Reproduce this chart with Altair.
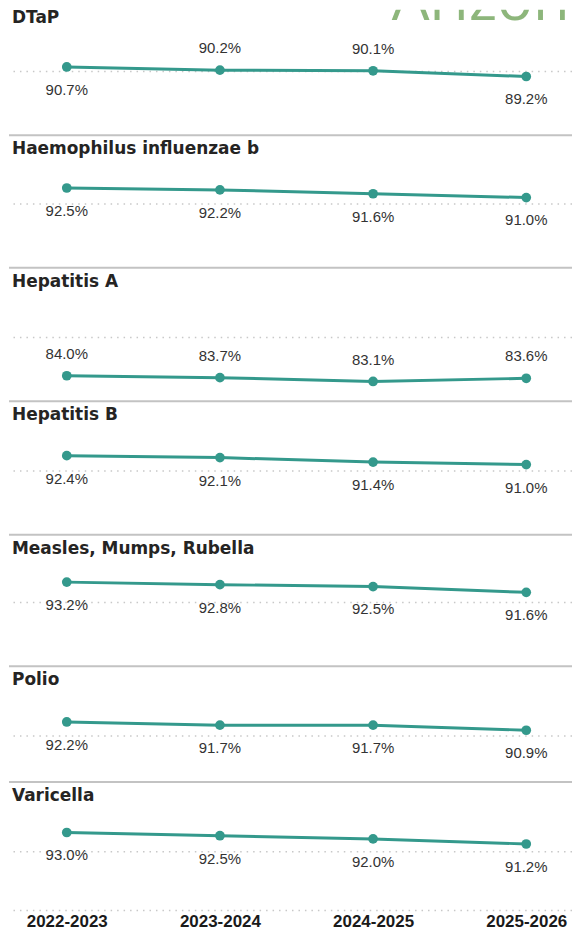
import altair as alt
import pandas as pd

# ---------------- data ----------------
years = ["2022-2023", "2023-2024", "2024-2025", "2025-2026"]
vaccines = [
    "DTaP",
    "Haemophilus influenzae b",
    "Hepatitis A",
    "Hepatitis B",
    "Measles, Mumps, Rubella",
    "Polio",
    "Varicella",
]
dtap = [90.7, 90.2, 90.1, 89.2]
hib = [92.5, 92.2, 91.6, 91.0]
hepa = [84.0, 83.7, 83.1, 83.6]
hepb = [92.4, 92.1, 91.4, 91.0]
mmr = [93.2, 92.8, 92.5, 91.6]
polio = [92.2, 91.7, 91.7, 90.9]
varicella = [93.0, 92.5, 92.0, 91.2]
series = [dtap, hib, hepa, hepb, mmr, polio, varicella]

# where each data label sits relative to its point
label_side = [
    ["below", "above", "above", "below"],
    ["below"] * 4,
    ["above"] * 4,
    ["below"] * 4,
    ["below"] * 4,
    ["below"] * 4,
    ["below"] * 4,
]
gridline_values = [90]
brand = "Arizona"

# ---------------- style / layout ----------------
TEAL = "#34998c"
TEXT = "#333333"
TITLE = "#252423"
SEP = "#c3c3c3"
GRID = "#c8c8c8"
W = 565
PX_PER_PCT = 6.4
heights = [126, 133, 134, 134, 132, 116, 129]
lows = [80, 80, 80, 80, 80, 82.8, 80.78]
title_y = [8.5, 14, 14, 14, 14, 14, 14]


def panel(i):
    last = i == len(vaccines) - 1
    lo = lows[i]
    h = heights[i]
    hi = lo + h / PX_PER_PCT
    df = pd.DataFrame(
        {"year": years, "value": series[i], "side": label_side[i]}
    )
    if last:
        xaxis = alt.Axis(
            title=None,
            domain=False,
            ticks=False,
            tickSize=0,
            grid=False,
            labelAngle=0,
            labelFont="Liberation Sans",
            labelFontWeight="bold",
            labelFontSize=17,
            labelColor="#1a1a1a",
            labelPadding=3,
        )
    else:
        xaxis = None
    x = alt.X(
        "year:O",
        sort=years,
        scale=alt.Scale(type="point", padding=0.338, align=0.558),
        axis=xaxis,
        title=None,
    )
    y = alt.Y(
        "value:Q",
        scale=alt.Scale(domain=[lo, hi], nice=False, zero=False),
        axis=None,
    )
    base = alt.Chart(df)

    gv = gridline_values + ([lo] if last else [])
    grid = (
        alt.Chart(pd.DataFrame({"value": gv}))
        .mark_rule(color=GRID, strokeWidth=1.5, strokeDash=[1.5, 5])
        .encode(y=y)
    )
    layers = [grid]
    if not last:
        sep = (
            alt.Chart(pd.DataFrame({"value": [lo]}))
            .mark_rule(color=SEP, strokeWidth=2)
            .encode(y=y)
        )
        layers.append(sep)

    line = base.mark_line(color=TEAL, strokeWidth=3).encode(x=x, y=y)
    pts = base.mark_circle(color=TEAL, size=95, opacity=1).encode(x=x, y=y)
    labels = base.transform_calculate(
        label="format(datum.value, '.1f') + '%'"
    )
    below = labels.transform_filter(alt.datum.side == "below").mark_text(
        dy=23, font="Liberation Sans", fontSize=15, color=TEXT, baseline="middle"
    ).encode(x=x, y=y, text="label:N")
    above = labels.transform_filter(alt.datum.side == "above").mark_text(
        dy=-22, font="Liberation Sans", fontSize=15, color=TEXT, baseline="middle"
    ).encode(x=x, y=y, text="label:N")

    title = (
        alt.Chart(pd.DataFrame({"vaccine": [vaccines[i]]}))
        .mark_text(
            align="left",
            baseline="middle",
            font="DejaVu Sans",
            fontWeight="bold",
            fontSize=17,
            color=TITLE,
            clip=True,
        )
        .encode(x=alt.value(3), y=alt.value(title_y[i]), text="vaccine:N")
    )
    layers += [line, pts, below, above, title]

    if i == 0:
        logo = (
            alt.Chart(pd.DataFrame({"brand": [brand]}))
            .mark_text(
                align="left",
                baseline="alphabetic",
                font="Open Sans",
                fontSize=60,
                color="#8db67b",
                clip=True,
            )
            .encode(x=alt.value(384), y=alt.value(10), text="brand:N")
        )
        layers.append(logo)

    return alt.layer(*layers).properties(width=W, height=h)


chart = (
    alt.vconcat(*[panel(i) for i in range(len(vaccines))], spacing=0, bounds="flush")
    .properties(padding=0)
    .configure_view(stroke=None)
)

chart.save("out.html", embed_options={"renderer": "svg", "actions": False})
